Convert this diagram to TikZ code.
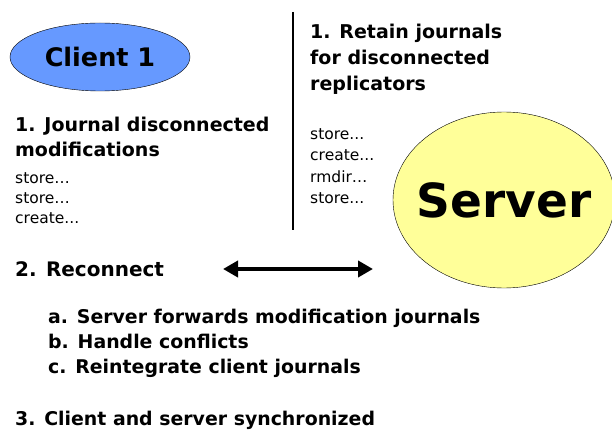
\documentclass[tikz,border=0pt]{standalone}
\usepackage{fontspec}
\setmainfont{DejaVu Sans}
\usetikzlibrary{arrows.meta, positioning, shapes.geometric}

\begin{document}
\begin{tikzpicture}[
    x=1pt, y=-1pt,
    head/.style={font=\fontsize{19}{25.5}\selectfont\bfseries, align=left, anchor=north west, inner sep=0pt},
    ops/.style={font=\fontsize{15.5}{20}\selectfont, align=left, anchor=north west, inner sep=0pt},
    party/.style={ellipse, draw, thin, inner sep=0pt},
    arrow/.style={{Triangle[length=15pt,width=16pt]}-{Triangle[length=15pt,width=16pt]}, line width=4.5pt}
]
\useasboundingbox (0,0) rectangle (612,430);

% client side
\node[party, fill={rgb,255:red,102;green,153;blue,255}, minimum width=180pt, minimum height=68pt,
      font=\fontsize{25.5}{30}\selectfont\bfseries] (client) at (100,57) {Client 1};
\node[head] (cjournal) at (15,116.6) {1. Journal disconnected\\modifications};
\node[ops] (cops) at (15,172) {store\dots\\store\dots\\create...};

% divider
\coordinate (divtop) at (293,12);
\coordinate (divbot) at (293,230);
\draw[line width=1.5pt] (divtop) -- (divbot);

% server side
\node[head, font=\fontsize{19}{26}\selectfont\bfseries] (sjournal) at (310,23.6) {1. Retain journals\\for disconnected\\replicators};
\node[ops, font=\fontsize{15.5}{21.5}\selectfont] (sops) at (310,128) {store...\\create...\\rmdir\dots\\store...};
\node[party, fill={rgb,255:red,255;green,255;blue,153}, minimum width=222pt, minimum height=176pt, inner xsep=-15pt,
      font=\fontsize{47}{56}\selectfont\bfseries] (server) at (504,200) {Server};

% reconnect
\node[head, font=\fontsize{20}{24}\selectfont\bfseries] (reconnect) at (15,261) {2. Reconnect};
\coordinate (left) at (223,269);
\coordinate (right) at (373,269);
\draw[arrow] (left) -- (right);
\node[head, font=\fontsize{18.9}{25}\selectfont\bfseries] (steps) at (48,308.6) {a. Server forwards modification journals\\b. Handle conflicts\\c. Reintegrate client journals};

% done
\node[head, font=\fontsize{18.9}{25}\selectfont\bfseries] (sync) at (15,410.6) {3. Client and server synchronized};
\end{tikzpicture}
\end{document}
